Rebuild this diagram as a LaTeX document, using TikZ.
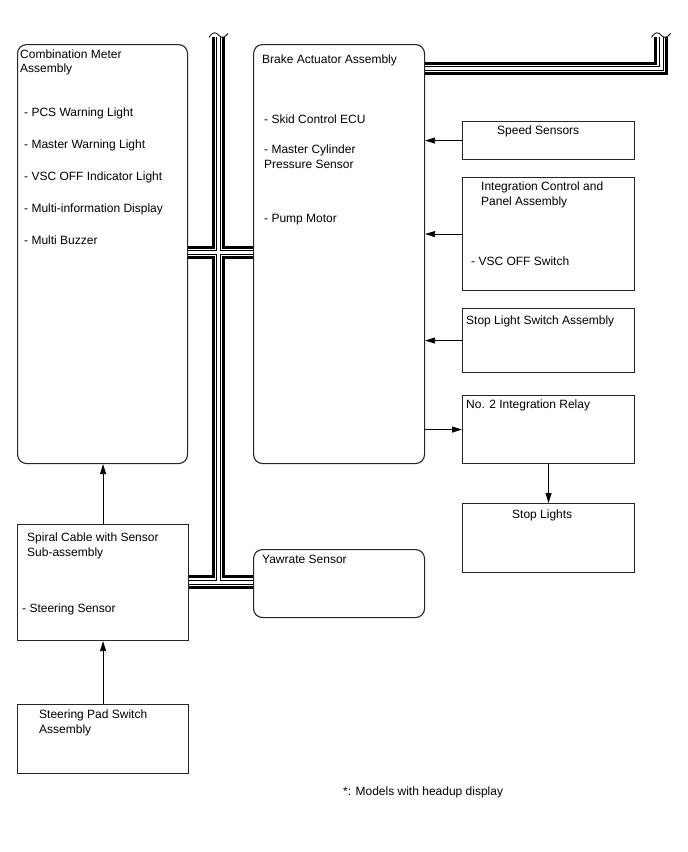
\documentclass[tikz,border=0pt]{standalone}
\usepackage{fontspec}
\setmainfont{Liberation Sans}
\usetikzlibrary{arrows.meta}

\begin{document}
\begin{tikzpicture}[x=1pt, y=-1pt,
    roundbox/.style={rectangle, draw=black!85, line width=1.1pt, rounded corners=9pt, fill=white, inner sep=0pt, anchor=north west},
    squarebox/.style={rectangle, draw=black!85, line width=1.1pt, fill=white, inner sep=0pt, anchor=north west}
    ]
    \tikzset{txt/.style={anchor=base west, inner sep=0pt, font=\fontsize{12}{14}\selectfont}}
    \tikzset{sig/.style={-{Triangle[length=10pt,width=6pt]}, line width=0.8pt}}
    \tikzset{brk/.style={line width=0.8pt}}
    \useasboundingbox (0,0) rectangle (688,852);
    %
    %bus
    %
    \coordinate (canTop) at (218.5,37);
    \coordinate (canBot) at (218.5,582);
    \coordinate (canMid) at (218.5,252.5);
    \coordinate (canR) at (661,68.5);
    \coordinate (canRtop) at (661,37);
    \foreach \w/\c in {13.5/black, 7.5/white, 5/black, 3/white}{
        \draw[line width=\w pt, \c] (canTop) -- (canBot);
        \draw[line width=\w pt, \c] (17+170,252.5) -- (253,252.5);
        \draw[line width=\w pt, \c] (17+171,582) -- (253,582);
        \draw[line width=\w pt, \c, line join=miter] (424,68.5) -- (canR) -- (canRtop);
    }
    \draw[brk] (209,37.5) .. controls (213,31) and (216,32) .. (219,35.5) .. controls (222,39) and (225,37) .. (228,33.5);
    \draw[brk] (651.5,37.5) .. controls (655.5,31) and (658.5,32) .. (661.5,35.5) .. controls (664.5,39) and (667.5,37) .. (670.5,33.5);
    %
    %vertices
    %
    \node[roundbox, minimum width=170pt, minimum height=419pt] (meter) at (17,44) {};
    \node[roundbox, minimum width=171pt, minimum height=419pt] (brake) at (253,44) {};
    \node[squarebox, minimum width=172pt, minimum height=38pt] (speed) at (462,121) {};
    \node[squarebox, minimum width=172pt, minimum height=113pt] (icp) at (462,177) {};
    \node[squarebox, minimum width=172pt, minimum height=64pt] (stopsw) at (462,308) {};
    \node[squarebox, minimum width=172pt, minimum height=68pt] (relay) at (462,395) {};
    \node[squarebox, minimum width=172pt, minimum height=69pt] (stoplt) at (462,503) {};
    \node[squarebox, minimum width=171pt, minimum height=116pt] (spiral) at (17,524) {};
    \node[roundbox, minimum width=171pt, minimum height=68pt] (yaw) at (253,549) {};
    \node[squarebox, minimum width=171pt, minimum height=69pt] (pad) at (17,704) {};
    %
    %texts
    %
    \node[txt] (meterA) at (20,58) {Combination Meter};
    \node[txt] (meterB) at (20,72.5) {Assembly};
    \node[txt] (pcs) at (24,116) {- PCS Warning Light};
    \node[txt] (mwl) at (24,148) {- Master Warning Light};
    \node[txt] (vscind) at (24,180) {- VSC OFF Indicator Light};
    \node[txt] (mid) at (24,212) {- Multi-information Display};
    \node[txt] (buzz) at (24,244) {- Multi Buzzer};
    \node[txt] (brakeA) at (262,63.5) {Brake Actuator Assembly};
    \node[txt] (ecu) at (264,123) {- Skid Control ECU};
    \node[txt] (mcA) at (264,153) {- Master Cylinder};
    \node[txt] (mcB) at (264,168) {Pressure Sensor};
    \node[txt] (pump) at (264,222) {- Pump Motor};
    \node[txt] (speedT) at (497,134.5) {Speed Sensors};
    \node[txt] (icpA) at (481,190.5) {Integration Control and};
    \node[txt] (icpB) at (481,205.5) {Panel Assembly};
    \node[txt] (vscsw) at (471,265.5) {- VSC OFF Switch};
    \node[txt] (stopswT) at (466,324.5) {Stop Light Switch Assembly};
    \node[txt] (relayT) at (466,408.5) {No. 2 Integration Relay};
    \node[txt] (stopltT) at (512,518.5) {Stop Lights};
    \node[txt] (spiralA) at (27,541.5) {Spiral Cable with Sensor};
    \node[txt] (spiralB) at (27,556.5) {Sub-assembly};
    \node[txt] (steer) at (22,612.5) {- Steering Sensor};
    \node[txt] (yawT) at (262,563.5) {Yawrate Sensor};
    \node[txt] (padA) at (39,718.5) {Steering Pad Switch};
    \node[txt] (padB) at (39,733.5) {Assembly};
    \node[txt] (note) at (343,795.5) {*: Models with headup display};
    %
    %edges
    %
    \draw[sig] (speed.west) -- (speed.west -| brake.east);
    \draw[sig] (icp.west) -- (icp.west -| brake.east);
    \draw[sig] (stopsw.west) -- (stopsw.west -| brake.east);
    \draw[sig] (relay.west -| brake.east) -- (relay.west);
    \draw[sig] (relay.south) -- (stoplt.north);
    \draw[sig] (spiral.north) -- (spiral.north |- meter.south);
    \draw[sig] (pad.north) -- (spiral.south);
\end{tikzpicture}
\end{document}
